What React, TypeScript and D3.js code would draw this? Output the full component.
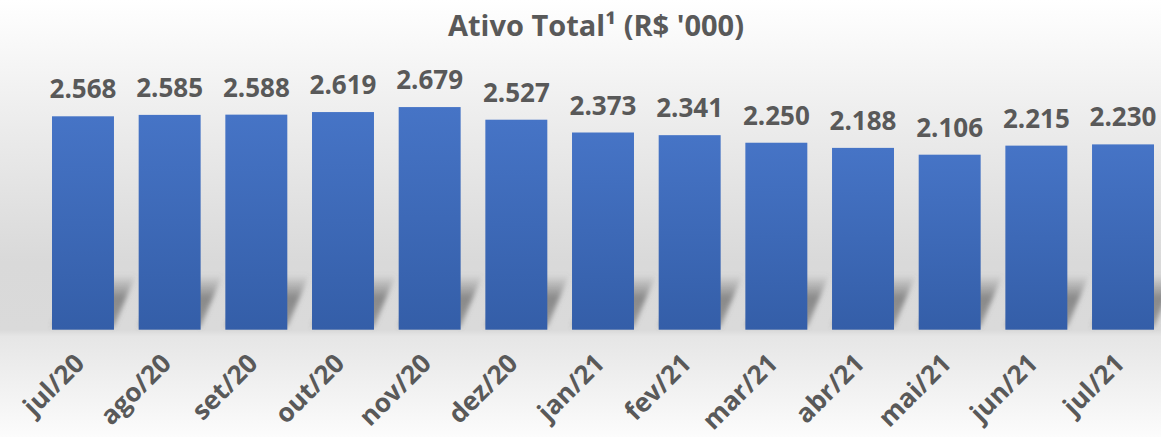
import React from "react";
import * as d3 from "d3";

const categories = ["jul/20", "ago/20", "set/20", "out/20", "nov/20", "dez/20", "jan/21", "fev/21", "mar/21", "abr/21", "mai/21", "jun/21", "jul/21"];
const values = [2568, 2585, 2588, 2619, 2679, 2527, 2373, 2341, 2250, 2188, 2106, 2215, 2230];
const title = "Ativo Total¹ (R$ '000)";

const W = 1161;
const H = 437;
const FONT = "'Open Sans', 'DejaVu Sans', sans-serif";
const TEXT = "#595959";

export default function App() {
  const x = d3.scaleBand<string>().domain(categories).range([39, 1167]).paddingInner(0.285).paddingOuter(0.15);
  const y = d3.scaleLinear().domain([0, 3000]).range([329.7, 329.7 - 3 * 83.1]);
  const fmt = (v: number) => d3.format(",")(v).replace(/,/g, ".");
  const bw = x.bandwidth();
  const base = y(0);

  return (
    <svg width={W} height={H} style={{ position: "absolute", left: 0, top: 0 }}>
      <defs>
        <linearGradient id="bg" x1="0" y1="0" x2="0" y2="1">
          <stop offset="0" stopColor="#ffffff" />
          <stop offset="0.3" stopColor="#ebebeb" />
          <stop offset="0.6" stopColor="#d9d9d9" />
          <stop offset="0.755" stopColor="#dadada" />
          <stop offset="0.77" stopColor="#e6e6e6" />
          <stop offset="1" stopColor="#fcfcfc" />
        </linearGradient>
        <linearGradient id="bar" x1="0" y1="0" x2="0" y2="1">
          <stop offset="0" stopColor="#4674c6" />
          <stop offset="1" stopColor="#345ea8" />
        </linearGradient>
        <linearGradient id="shd" x1="0" y1="1" x2="0" y2="0">
          <stop offset="0" stopColor="#6e6e6e" stopOpacity="0.6" />
          <stop offset="0.55" stopColor="#6e6e6e" stopOpacity="0.75" />
          <stop offset="1" stopColor="#6e6e6e" stopOpacity="0" />
        </linearGradient>
        <filter id="blur" x="-50%" y="-50%" width="200%" height="200%">
          <feGaussianBlur stdDeviation="2.5" />
        </filter>
      </defs>
      <rect x={0} y={0} width={W} height={H} fill="url(#bg)" />
      <text x={596} y={36} textAnchor="middle" fontFamily={FONT} fontWeight={700} fontSize={29} fill={TEXT}>
        {title}
      </text>
      <g filter="url(#blur)">
        {categories.map((c) => {
          const x0 = x(c)!;
          const h = 55;
          const dx = 22;
          return (
            <polygon
              key={"s" + c}
              points={`${x0},${base - 3} ${x0 + bw},${base - 3} ${x0 + bw + dx},${base - h} ${x0 + dx},${base - h}`}
              fill="url(#shd)"
            />
          );
        })}
      </g>
      {categories.map((c, i) => (
        <rect key={c} x={x(c)} y={y(values[i])} width={bw} height={base - y(values[i])} fill="url(#bar)" />
      ))}
      {categories.map((c, i) => (
        <text
          key={"v" + c}
          x={x(c)! + bw / 2}
          y={y(values[i]) - 18}
          textAnchor="middle"
          fontFamily={FONT}
          fontWeight={700}
          fontSize={26}
          fill={TEXT}
        >
          {fmt(values[i])}
        </text>
      ))}
      {categories.map((c) => (
        <text
          key={"x" + c}
          transform={`translate(${x(c)! + bw / 2 + 3},${365}) rotate(-45)`}
          textAnchor="end"
          fontFamily={FONT}
          fontWeight={700}
          fontSize={26}
          fill={TEXT}
        >
          {c}
        </text>
      ))}
    </svg>
  );
}
